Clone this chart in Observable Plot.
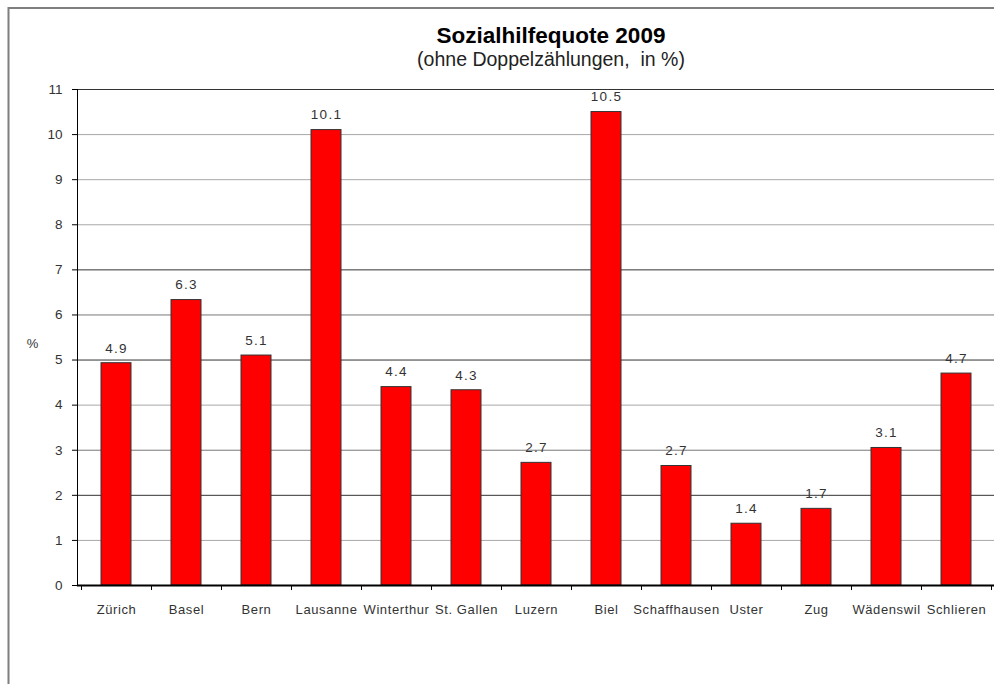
<!DOCTYPE html>
<html><head><meta charset="utf-8">
<script src="https://cdn.jsdelivr.net/npm/d3@7"></script>
<script src="https://cdn.jsdelivr.net/npm/@observablehq/plot@0.6"></script>
<style>
body{margin:0;background:#fff;}
#chart{position:relative;width:994px;height:684px;overflow:hidden;}
</style>
</head><body><div id="chart"></div>
<script>
const cities = ["Zürich","Basel","Bern","Lausanne","Winterthur","St. Gallen","Luzern","Biel","Schaffhausen","Uster","Zug","Wädenswil","Schlieren"];
const quote = [4.9,6.3,5.1,10.1,4.4,4.3,2.7,10.5,2.7,1.4,1.7,3.1,4.7];
const barHeight = [4.93,6.33,5.1,10.1,4.4,4.33,2.72,10.5,2.65,1.37,1.7,3.05,4.7];
const yTicks = [0,1,2,3,4,5,6,7,8,9,10,11];
const gridDark = [11,7,5,2];
const gridMid = [6,3];
const gridLight = [10,9,8,4,1];
const titleText = "Sozialhilfequote 2009";
const subtitleText = "(ohne Doppelzählungen,  in %)";
const yLabel = "%";

const data = cities.map((c,i)=>({city:c, value:barHeight[i], label:quote[i]}));
const font = "'Liberation Sans', Arial, Helvetica, sans-serif";

const plot = Plot.plot({
  width:994, height:684,
  marginLeft:77, marginRight:0, marginTop:89, marginBottom:99,
  style:{fontFamily:font, fontSize:"13px", color:"#333", background:"#fff"},
  x:{domain:cities, paddingInner:0.575, paddingOuter:0.2875, label:null},
  y:{domain:[0,11], label:null},
  marks:[
    Plot.ruleY(gridLight,{stroke:"#a8a8a8", strokeWidth:1}),
    Plot.ruleY(gridMid,{stroke:"#777", strokeWidth:1}),
    Plot.ruleY(gridDark,{stroke:"#333", strokeWidth:1}),
    Plot.barY(data,{x:"city", y:"value", fill:"#ff0000", stroke:"#333", strokeWidth:1}),
    Plot.text(data,{x:"city", y:"value", text:d=>d.label.toFixed(1), dy:-15, fill:"#333", fontSize:13.5, className:"vlab"}),
    Plot.axisY({ticks:yTicks, tickSize:5, tickPadding:10, tickFormat:d=>String(d), label:null, stroke:"#000", fontSize:13.5}),
    Plot.axisX({tickSize:0, tickPadding:19, label:null, fontSize:13, className:"xlab"}),
    Plot.ruleY([0],{stroke:"#000", strokeWidth:2}),
    Plot.frame({anchor:"left", stroke:"#000"}),
    Plot.text([yLabel],{frameAnchor:"left", dx:-45, dy:6, textAnchor:"middle", fill:"#333", fontSize:13})
  ]
});

const svg = d3.select(plot);
svg.selectAll(".vlab text").style("letter-spacing","1.3px");
svg.selectAll(".xlab text").style("letter-spacing","0.6px");
const sx = plot.scale("x");
const sy = plot.scale("y");
const y0 = sy.apply(0);
const gap = (sx.step - sx.bandwidth)/2;
const bounds = cities.map(c=>sx.apply(c)-gap);
bounds.push(sx.apply(cities[cities.length-1]) + sx.bandwidth + gap);
const g = svg.append("g").attr("stroke","#000").attr("stroke-width",1);
bounds.forEach(b=>{
  g.append("line").attr("x1",Math.round(b)+0.5).attr("x2",Math.round(b)+0.5).attr("y1",y0).attr("y2",y0+5);
});

// outer border of the chart area
svg.append("path").attr("d","M8.5,684V8H994").attr("fill","none").attr("stroke","#7f7f7f").attr("stroke-width",2);

svg.append("text").attr("x",551).attr("y",43).attr("text-anchor","middle")
  .attr("font-family",font).attr("font-weight","bold").attr("font-size",22.5).attr("fill","#000").text(titleText);
svg.append("text").attr("x",551).attr("y",66).attr("text-anchor","middle")
  .attr("font-family",font).attr("font-size",19.5).attr("fill","#222").style("white-space","pre").text(subtitleText);

document.getElementById("chart").appendChild(plot);
</script>
</body></html>
